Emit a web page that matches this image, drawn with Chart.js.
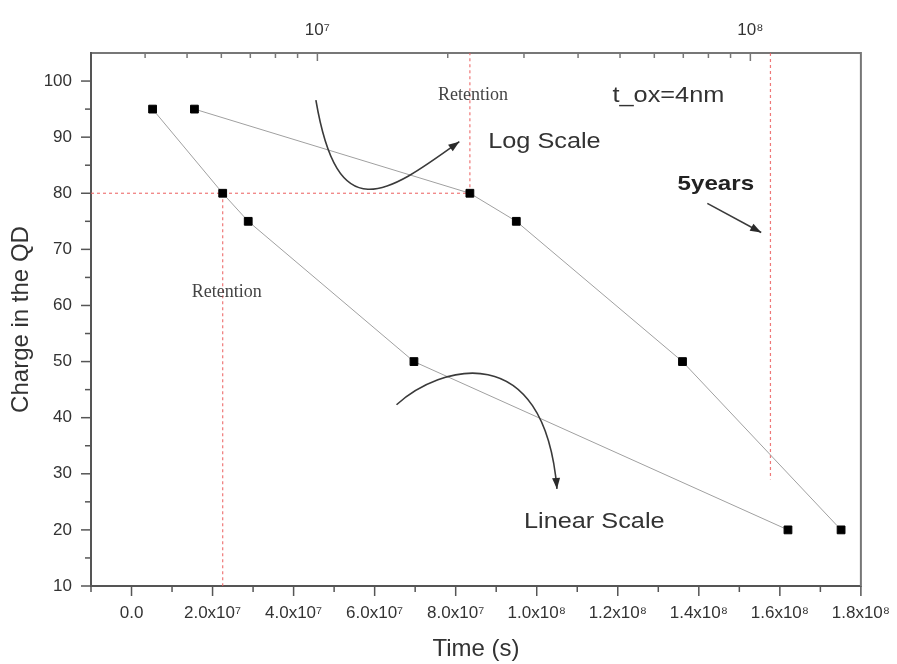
<!DOCTYPE html>
<html>
<head>
<meta charset="utf-8">
<script src="https://cdn.jsdelivr.net/npm/chart.js@4.4.0/dist/chart.umd.min.js"></script>
<style>
  html, body { margin: 0; padding: 0; background: #ffffff; }
  #wrap { width: 897px; height: 664px; position: relative; }
</style>
</head>
<body>
<div id="wrap"><canvas id="c" width="897" height="664"></canvas></div>
<script>
// Charge retention of the quantum dot (t_ox = 4 nm)
const timeSeconds = [5.2e6, 2.25e7, 2.88e7, 6.97e7, 1.62e8];
const chargeQD    = [95, 80, 75, 50, 20];

// Reference levels
const retentionCharge = 80;
const retentionTime   = 2.25e7;
const fiveYears       = 1.5768e8;
const fiveYearsLow    = 29;

// Axis ticks
const xTickValues   = [0, 2e7, 4e7, 6e7, 8e7, 1e8, 1.2e8, 1.4e8, 1.6e8, 1.8e8];
const xTickLabels   = ['0.0', '2.0x10⁷', '4.0x10⁷', '6.0x10⁷', '8.0x10⁷',
                       '1.0x10⁸', '1.2x10⁸', '1.4x10⁸', '1.6x10⁸', '1.8x10⁸'];
const topTickValues = [1e7, 1e8];
const topTickLabels = ['10⁷', '10⁸'];
const yTickValues   = [10, 20, 30, 40, 50, 60, 70, 80, 90, 100];

const axisColor = '#555555';
const frameColor = '#777777';
const textColor = '#333333';
const refColor  = 'rgba(236, 96, 96, 0.85)';

const pts = timeSeconds.map((t, i) => ({ x: t, y: chargeQD[i] }));

const seriesStyle = {
  showLine: true,
  borderColor: '#a0a0a0',
  borderWidth: 1,
  pointStyle: 'rect',
  pointRadius: 5.5,
  pointBackgroundColor: '#000',
  pointBorderColor: '#000',
  pointBorderWidth: 1,
  tension: 0
};
const refStyle = {
  showLine: true,
  borderColor: refColor,
  borderWidth: 1.2,
  borderDash: [3, 3],
  pointRadius: 0,
  tension: 0
};

// Annotation text and arrows, placed in data units of the linear time axis (seconds) and charge axis
const notes = [
  { text: 'Retention',    x: 84.3e6,  y: 97.5, font: '18px "Liberation Serif"', color: '#444', sx: 1.0 },
  { text: 'Retention',    x: 23.5e6,  y: 62.4, font: '18px "Liberation Serif"', color: '#444', sx: 1.0 },
  { text: 't_ox=4nm',     x: 132.5e6, y: 97.3, font: '22px "Liberation Sans"', color: textColor, sx: 1.15 },
  { text: 'Log Scale',    x: 101.9e6, y: 89.2, font: '22px "Liberation Sans"', color: textColor, sx: 1.15 },
  { text: '5years',       x: 144.2e6, y: 81.7, font: 'bold 21px "Liberation Sans"', color: '#222', sx: 1.15 },
  { text: 'Linear Scale', x: 114.2e6, y: 21.5, font: '22px "Liberation Sans"', color: textColor, sx: 1.15 }
];
const curvedArrows = [
  [[45.5e6, 96.6], [50.9e6, 73.7], [62.5e6, 79.6], [80.9e6, 89.2]],
  [[65.4e6, 42.3], [76.0e6, 49.3], [101.8e6, 54.6], [105.0e6, 27.3]]
];
const straightArrows = [
  [[142.1e6, 78.2], [155.4e6, 73.0]]
];

function arrowHead(ctx, x, y, ang, len, half) {
  ctx.beginPath();
  ctx.moveTo(x, y);
  ctx.lineTo(x - len * Math.cos(ang) + half * Math.sin(ang), y - len * Math.sin(ang) - half * Math.cos(ang));
  ctx.lineTo(x - len * Math.cos(ang) - half * Math.sin(ang), y - len * Math.sin(ang) + half * Math.cos(ang));
  ctx.closePath();
  ctx.fill();
}

const decor = {
  id: 'decor',
  afterDraw(chart) {
    const { ctx, chartArea: a, scales } = chart;
    const sx = scales.x, sy = scales.y, st = scales.xTop;
    const line = (x1, y1, x2, y2) => { ctx.beginPath(); ctx.moveTo(x1, y1); ctx.lineTo(x2, y2); ctx.stroke(); };
    ctx.save();

    // right edge of the frame
    ctx.strokeStyle = frameColor;
    ctx.lineWidth = 2;
    line(a.right, a.top - 1, a.right, a.bottom + 1);

    // tick marks: major and minor
    ctx.lineWidth = 1.5;
    ctx.strokeStyle = axisColor;
    for (let v = -1e7; v <= 1.8e8; v += 1e7) {
      const px = sx.getPixelForValue(v);
      const len = xTickValues.includes(v) ? 10 : 6;
      line(px, a.bottom, px, a.bottom + len);
    }
    for (let v = 10; v <= 100; v += 5) {
      const py = sy.getPixelForValue(v);
      const len = v % 10 === 0 ? 10 : 6;
      line(a.left - len, py, a.left, py);
    }
    ctx.strokeStyle = frameColor;
    for (const d of [1e6, 1e7, 1e8]) {
      for (let m = 1; m <= 9; m++) {
        const v = m * d;
        if (v <= st.min || v >= st.max) continue;
        const px = st.getPixelForValue(v);
        line(px, a.top, px, a.top + (m === 1 ? 8 : 5));
      }
    }

    // curved and straight arrows
    ctx.strokeStyle = '#3a3a3a';
    ctx.fillStyle = '#2a2a2a';
    ctx.lineWidth = 1.6;
    for (const c of curvedArrows) {
      const p = c.map(([x, y]) => [sx.getPixelForValue(x), sy.getPixelForValue(y)]);
      ctx.beginPath();
      ctx.moveTo(p[0][0], p[0][1]);
      ctx.bezierCurveTo(p[1][0], p[1][1], p[2][0], p[2][1], p[3][0], p[3][1]);
      ctx.stroke();
      const ang = Math.atan2(p[3][1] - p[2][1], p[3][0] - p[2][0]);
      arrowHead(ctx, p[3][0], p[3][1], ang, 11, 4);
    }
    for (const s of straightArrows) {
      const p = s.map(([x, y]) => [sx.getPixelForValue(x), sy.getPixelForValue(y)]);
      line(p[0][0], p[0][1], p[1][0], p[1][1]);
      const ang = Math.atan2(p[1][1] - p[0][1], p[1][0] - p[0][0]);
      arrowHead(ctx, p[1][0], p[1][1], ang, 11, 4);
    }

    // annotation text
    ctx.textAlign = 'center';
    ctx.textBaseline = 'middle';
    for (const n of notes) {
      ctx.save();
      ctx.translate(sx.getPixelForValue(n.x), sy.getPixelForValue(n.y));
      ctx.scale(n.sx, 1);
      ctx.font = n.font;
      ctx.fillStyle = n.color;
      ctx.fillText(n.text, 0, 0);
      ctx.restore();
    }
    ctx.restore();
  }
};

const tickFont  = { family: '"Liberation Sans", Arial, sans-serif', size: 17 };
const titleFont = { family: '"Liberation Sans", Arial, sans-serif', size: 24 };

new Chart(document.getElementById('c'), {
  type: 'scatter',
  data: {
    datasets: [
      { label: 'Linear Scale', data: pts, xAxisID: 'x', yAxisID: 'y', ...seriesStyle },
      { label: 'Log Scale', data: pts, xAxisID: 'xTop', yAxisID: 'y', ...seriesStyle },
      { label: 'Retention (log)', xAxisID: 'xTop', yAxisID: 'y', ...refStyle,
        data: [{ x: 3e6, y: retentionCharge }, { x: retentionTime, y: retentionCharge }] },
      { label: 'Retention (log) vertical', xAxisID: 'xTop', yAxisID: 'y', ...refStyle,
        data: [{ x: retentionTime, y: retentionCharge }, { x: retentionTime, y: 105 }] },
      { label: 'Retention (linear)', xAxisID: 'x', yAxisID: 'y', ...refStyle,
        data: [{ x: retentionTime, y: retentionCharge }, { x: retentionTime, y: 10 }] },
      { label: '5 years', xAxisID: 'x', yAxisID: 'y', ...refStyle,
        data: [{ x: fiveYears, y: 105 }, { x: fiveYears, y: fiveYearsLow }] }
    ]
  },
  options: {
    responsive: false,
    animation: false,
    layout: { padding: { left: 0, right: 35, top: 0, bottom: 0 } },
    plugins: { legend: { display: false }, tooltip: { enabled: false } },
    scales: {
      x: {
        type: 'linear',
        position: 'bottom',
        min: -1e7,
        max: 1.8e8,
        afterBuildTicks: s => { s.ticks = xTickValues.map(v => ({ value: v })); },
        afterFit: s => { s.height = 78; },
        ticks: {
          autoSkip: false, maxRotation: 0, minRotation: 0,
          padding: 7, color: textColor, font: tickFont,
          callback: v => xTickLabels[xTickValues.indexOf(v)]
        },
        grid: { display: false, drawTicks: true, tickLength: 10 },
        border: { display: true, color: axisColor, width: 2 },
        title: { display: true, text: 'Time (s)', color: textColor, font: titleFont,
                 padding: { top: 0, bottom: 0 } }
      },
      xTop: {
        type: 'logarithmic',
        position: 'top',
        min: 3e6,
        max: 1.8e8,
        afterBuildTicks: s => { s.ticks = topTickValues.map(v => ({ value: v })); },
        afterFit: s => { s.height = 53; },
        ticks: {
          autoSkip: false, maxRotation: 0, minRotation: 0,
          padding: 2, color: textColor, font: tickFont,
          callback: v => topTickLabels[topTickValues.indexOf(v)]
        },
        grid: { display: false, drawTicks: true, tickLength: 10 },
        border: { display: true, color: frameColor, width: 2 }
      },
      y: {
        type: 'linear',
        position: 'left',
        min: 10,
        max: 105,
        afterBuildTicks: s => { s.ticks = yTickValues.map(v => ({ value: v })); },
        afterFit: s => { s.width = 91; },
        ticks: { padding: 9, color: textColor, font: tickFont },
        grid: { display: false, drawTicks: true, tickLength: 10 },
        border: { display: true, color: axisColor, width: 2 },
        title: { display: true, text: 'Charge in the QD', color: textColor, font: titleFont,
                 padding: { top: 7, bottom: 0 } }
      }
    }
  },
  plugins: [decor]
});
</script>
</body>
</html>
